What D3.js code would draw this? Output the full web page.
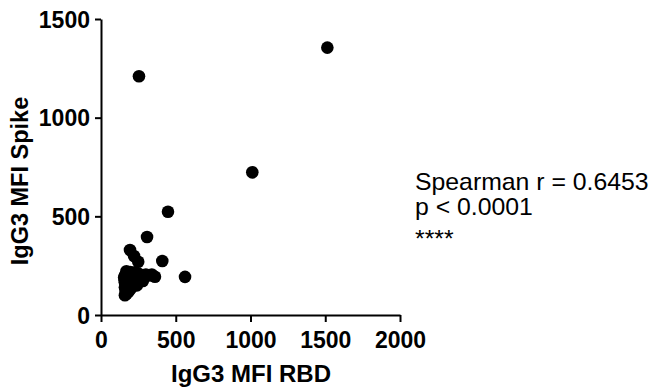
<!DOCTYPE html>
<html><head><meta charset="utf-8">
<script src="https://cdn.jsdelivr.net/npm/d3@7"></script>
<style>body{margin:0;background:#fff}svg{display:block}</style>
</head><body>
<script>
const rbd =   [1514,254,1012,448,308,194,221,249,410,562,361,
  160,170,165,180,175,190,160,185,200,170,195,210,160,180,205,225,165,190,215,240,160,175,200,230,260,280,300,320,340,170,195,250,220,155,158,270,235,190,240,280];
const spike = [1355,1210,723,523,395,329,299,270,274,193,194,
  100,108,120,115,130,125,140,140,135,155,150,145,165,170,165,160,185,185,180,175,200,210,200,195,190,200,205,200,205,222,218,210,215,190,175,180,210,200,150,172];
const xTicks = [0,500,1000,1500,2000];
const yTicks = [0,500,1000,1500];
const statLines = ["Spearman r = 0.6453","p < 0.0001"];
const stars = "****";

const W=653,H=391;
const svg=d3.select("body").append("svg").attr("width",W).attr("height",H);
const x=d3.scaleLinear().domain([0,2000]).range([101,400]);
const y=d3.scaleLinear().domain([0,1500]).range([315,19]);
const font="Arial, 'Liberation Sans', sans-serif";

const gx=svg.append("g").attr("transform","translate(0,315)")
  .call(d3.axisBottom(x).tickValues(xTicks).tickFormat(d3.format("d")).tickSize(7).tickPadding(10).tickSizeOuter(0));
const gy=svg.append("g").attr("transform","translate(101,0)")
  .call(d3.axisLeft(y).tickValues(yTicks).tickFormat(d3.format("d")).tickSize(6).tickPadding(5).tickSizeOuter(0));
[gx,gy].forEach(g=>{
  g.select(".domain").attr("stroke","#000").attr("stroke-width",2);
  g.selectAll(".tick line").attr("stroke","#000").attr("stroke-width",2);
  g.selectAll(".tick text").attr("fill","#000").style("font-family",font)
   .style("font-size","23px").style("font-weight","bold");
});
gy.selectAll(".tick text").attr("dy","0.36em");

svg.append("g").selectAll("circle").data(rbd.map((d,i)=>[d,spike[i]])).join("circle")
  .attr("cx",d=>x(d[0])).attr("cy",d=>y(d[1])).attr("r",6.3).attr("fill","#000");

svg.append("text").attr("x",251).attr("y",382).attr("text-anchor","middle")
  .style("font-family",font).style("font-size","24px").style("font-weight","bold")
  .text("IgG3 MFI RBD");
svg.append("text").attr("transform","translate(28,181) rotate(-90)").attr("text-anchor","middle")
  .style("font-family",font).style("font-size","23.5px").style("font-weight","bold")
  .text("IgG3 MFI Spike");

const st=svg.append("g").style("font-family",font).style("font-size","24.8px");
statLines.forEach((t,i)=>st.append("text").attr("x",415).attr("y",190+i*25).text(t));
st.append("text").attr("x",415).attr("y",247).text(stars);
</script>
</body></html>
